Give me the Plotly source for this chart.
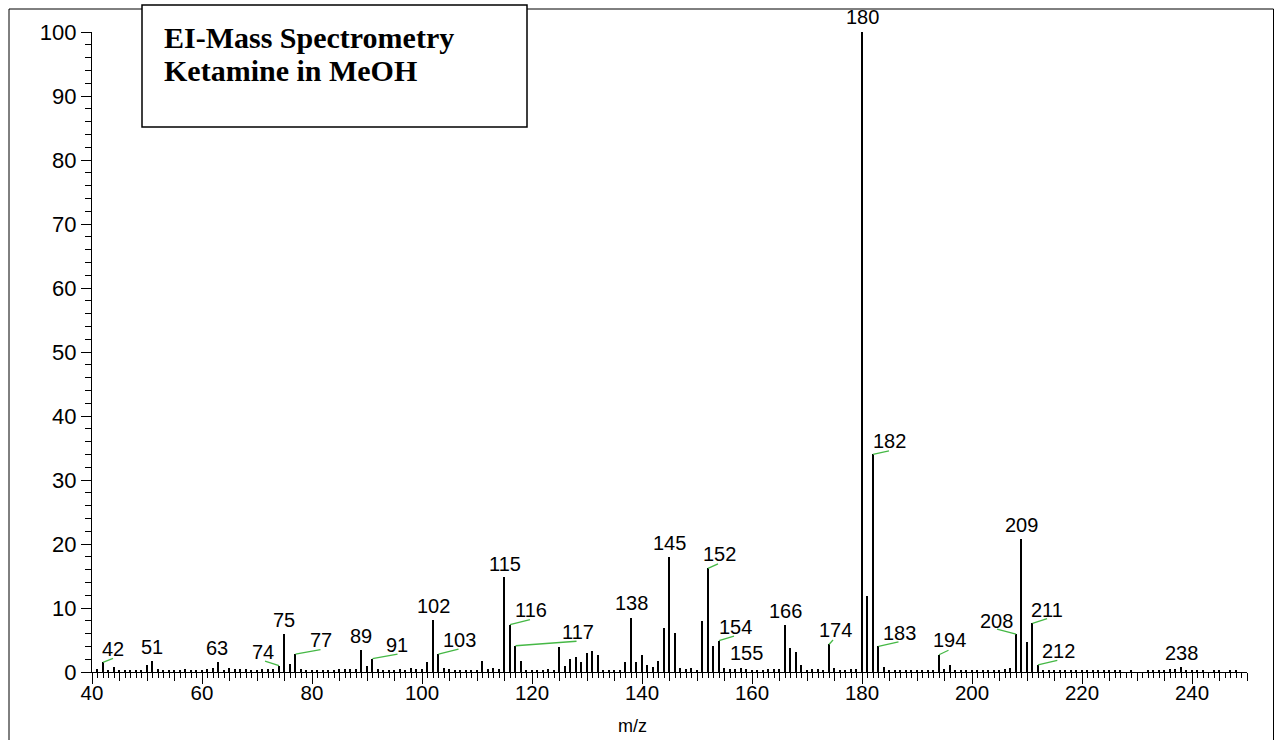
import plotly.graph_objects as go

# EI mass spectrum of ketamine in MeOH: relative abundance (%) for m/z 41..249
MZ_START = 41
ABUNDANCE = [
    0.4, 1.5, 0.3, 0.8, 0.3, 0.3, 0.3, 0.3, 0.3, 1.1,      # 41-50
    1.7, 0.4, 0.3, 0.3, 0.3, 0.3, 0.4, 0.3, 0.3, 0.3,      # 51-60
    0.4, 0.6, 1.5, 0.3, 0.6, 0.4, 0.4, 0.4, 0.3, 0.3,      # 61-70
    0.5, 0.4, 0.4, 1.0, 5.9, 1.3, 2.8, 0.4, 0.3, 0.3,      # 71-80
    0.3, 0.3, 0.3, 0.3, 0.4, 0.4, 0.5, 0.5, 3.4, 0.9,      # 81-90
    2.1, 0.4, 0.3, 0.3, 0.3, 0.4, 0.3, 0.6, 0.4, 0.4,      # 91-100
    1.5, 8.2, 2.8, 0.6, 0.4, 0.3, 0.3, 0.3, 0.3, 0.3,      # 101-110
    1.7, 0.4, 0.6, 0.5, 14.8, 7.4, 4.1, 1.7, 0.3, 0.3,     # 111-120
    0.3, 0.3, 0.4, 0.3, 3.9, 0.9, 2.1, 2.3, 1.5, 2.9,      # 121-130
    3.3, 2.7, 0.3, 0.3, 0.3, 0.3, 1.5, 8.5, 1.5, 2.7,      # 131-140
    1.1, 0.8, 1.7, 6.9, 18.0, 6.1, 0.6, 0.4, 0.6, 0.3,     # 141-150
    8.0, 16.2, 4.1, 4.9, 0.7, 0.4, 0.5, 0.7, 0.4, 0.3,     # 151-160
    0.3, 0.3, 0.4, 0.5, 0.4, 7.3, 3.7, 3.2, 1.1, 0.3,      # 161-170
    0.5, 0.4, 0.3, 4.3, 0.7, 0.3, 0.3, 0.5, 0.5, 100.0,    # 171-180
    11.8, 34.0, 4.0, 0.8, 0.3, 0.3, 0.3, 0.3, 0.3, 0.3,    # 181-190
    0.3, 0.3, 0.3, 2.7, 0.4, 1.1, 0.3, 0.3, 0.3, 0.3,      # 191-200
    0.3, 0.3, 0.3, 0.3, 0.3, 0.4, 0.6, 5.9, 20.8, 4.7,     # 201-210
    7.6, 1.1, 0.3, 0.3, 0.3, 0.3, 0.3, 0.3, 0.3, 0.3,      # 211-220
    0.3, 0.3, 0.3, 0.3, 0.3, 0.3, 0.3, 0.0, 0.3, 0.0,      # 221-230
    0.0, 0.3, 0.3, 0.3, 0.3, 0.4, 0.4, 0.8, 0.3, 0.3,      # 231-240
    0.3, 0.3, 0.0, 0.3, 0.3, 0.0, 0.3, 0.3, 0.0,           # 241-249
]
MZ = list(range(MZ_START, MZ_START + len(ABUNDANCE)))

# Peaks that carry an m/z label
LABELED_MZ = [42, 51, 63, 74, 75, 77, 89, 91, 102, 103, 115, 116, 117, 138,
              145, 152, 154, 155, 166, 174, 180, 182, 183, 194, 208, 209,
              211, 212, 238]

# Label placement (pixels from the peak top: dx right, dy up) and, for the
# displaced labels, the end of the green leader line
LABEL_SHIFT = {
    42: (10, 13), 51: (-1, 14), 63: (-2, 14), 74: (-16, 14), 75: (-1, 14),
    77: (25, 14), 89: (-1, 14), 91: (24, 14), 102: (0, 14), 103: (21, 14.5),
    115: (0, 13.5), 116: (21, 14.5), 117: (62, 14), 138: (0, 14.5),
    145: (0, 14), 152: (11, 14), 154: (16, 13.5), 155: (21.5, 14.4),
    166: (0, 14), 174: (6, 14), 180: (0, 15), 182: (16, 13),
    183: (21, 13.5), 194: (10.5, 14.5), 208: (-20, 13.5), 209: (0, 14),
    211: (14, 13.7), 212: (20, 13.5), 238: (0, 14),
}
LEADER_END = {
    42: (10, 4), 74: (-14, 4.5), 77: (25, 4.5), 91: (25, 4.5),
    103: (20, 5), 116: (20, 5), 117: (61, 4.5), 152: (10, 4.5),
    154: (15, 4.5), 174: (4, 4.5), 182: (16, 3.5), 183: (20, 4.5),
    194: (9.5, 4.5), 208: (-19, 5), 211: (14.6, 4.7), 212: (19.3, 4.7),
}

X_RANGE = [40, 250]
Y_RANGE = [0, 100]

W, H = 1275, 740
ML, MR, MT, MB = 92, 28, 32, 68
PW, PH = W - ML - MR, H - MT - MB

SANS = "Arial, Liberation Sans, sans-serif"
SERIF = "Times New Roman, Liberation Serif, serif"
GREEN = "#45b845"


def px_to_paper(px, py):
    return (px - ML) / PW, (H - MB - py) / PH


fig = go.Figure()

fig.add_trace(go.Bar(
    x=MZ, y=ABUNDANCE, width=0.27,
    marker=dict(color="black", line=dict(width=0)),
    hoverinfo="x+y", showlegend=False,
))
# helper trace so the unit-step tick axis is drawn
fig.add_trace(go.Scatter(
    x=[X_RANGE[0]], y=[0], xaxis="x2", mode="markers",
    marker=dict(opacity=0), hoverinfo="skip", showlegend=False,
))

abund_of = dict(zip(MZ, ABUNDANCE))
annotations = []
shapes = []

for mz in LABELED_MZ:
    val = abund_of[mz]
    dx, dy = LABEL_SHIFT[mz]
    annotations.append(dict(
        x=mz, y=val, xref="x", yref="y", text=str(mz), showarrow=False,
        xanchor="center", yanchor="middle", xshift=dx, yshift=dy,
        font=dict(family=SANS, size=20, color="black"),
    ))
    if mz in LEADER_END:
        ex, ey = LEADER_END[mz]
        shapes.append(dict(
            type="line", xref="x", yref="y",
            xsizemode="pixel", ysizemode="pixel",
            xanchor=mz, yanchor=val, x0=0, y0=0, x1=ex, y1=ey,
            line=dict(color=GREEN, width=1.3), layer="above",
        ))

# outer frame
fx0, fy0 = px_to_paper(9, 745)
fx1, fy1 = px_to_paper(1273.5, 9)
shapes.append(dict(type="rect", xref="paper", yref="paper",
                   x0=fx0, y0=fy0, x1=fx1, y1=fy1,
                   line=dict(color="black", width=1), layer="below"))

# title box
bx0, by0 = px_to_paper(142, 127)
bx1, by1 = px_to_paper(527, 5)
shapes.append(dict(type="rect", xref="paper", yref="paper",
                   x0=bx0, y0=by0, x1=bx1, y1=by1, fillcolor="white",
                   line=dict(color="black", width=1.5), layer="above"))

tx, ty1 = px_to_paper(162, 37)
_, ty2 = px_to_paper(162, 70.5)
for txt, ty in (("EI-Mass Spectrometry", ty1), ("Ketamine in MeOH", ty2)):
    annotations.append(dict(
        x=tx, y=ty, xref="paper", yref="paper", text=f"<b>{txt}</b>",
        showarrow=False, xanchor="left", yanchor="middle",
        font=dict(family=SERIF, size=30, color="black"),
    ))

mx, my = px_to_paper(632, 726)
annotations.append(dict(
    x=mx, y=my, xref="paper", yref="paper", text="m/z", showarrow=False,
    xanchor="center", yanchor="middle",
    font=dict(family=SANS, size=18, color="black"),
))

fig.update_layout(
    width=W, height=H, autosize=False,
    margin=dict(l=ML, r=MR, t=MT, b=MB, pad=0),
    paper_bgcolor="white", plot_bgcolor="white",
    bargap=0,
    xaxis=dict(
        range=X_RANGE, tick0=40, dtick=20, ticks="outside", ticklen=11,
        tickwidth=1.3, tickcolor="black", showline=True, linecolor="black",
        linewidth=1.3, showgrid=False, zeroline=False, ticklabelstandoff=-9,
        tickfont=dict(family=SANS, size=20.5, color="black"),
        minor=dict(tick0=40, dtick=5, ticks="outside", ticklen=8,
                   tickwidth=1.3, tickcolor="black", showgrid=False),
    ),
    xaxis2=dict(
        range=X_RANGE, overlaying="x", anchor="y", side="bottom",
        tick0=40, dtick=1, ticks="outside", ticklen=5, tickwidth=1,
        tickcolor="black", showticklabels=False, showline=False,
        showgrid=False, zeroline=False,
    ),
    yaxis=dict(
        range=Y_RANGE, tick0=0, dtick=10, ticks="outside", ticklen=10,
        tickwidth=1.3, tickcolor="black", showline=True, linecolor="black",
        linewidth=1.3, showgrid=False, zeroline=False,
        tickfont=dict(family=SANS, size=22, color="black"),
        minor=dict(tick0=0, dtick=2, ticks="outside", ticklen=6,
                   tickwidth=1.3, tickcolor="black", showgrid=False),
    ),
    shapes=shapes,
    annotations=annotations,
)

fig.write_html("out.html")
